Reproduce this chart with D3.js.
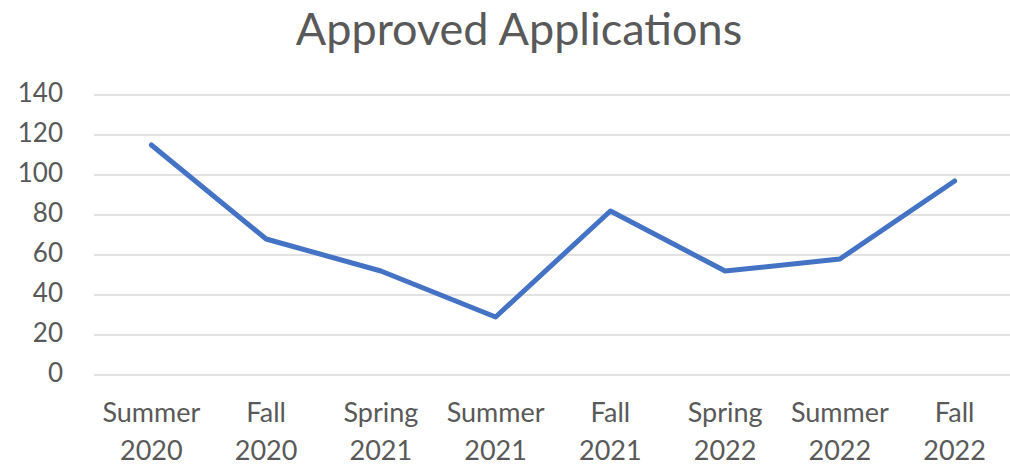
<!DOCTYPE html>
<html lang="en">
<head>
  <meta charset="UTF-8">
  <title>Approved Applications</title>
  <script src="https://d3js.org/d3.v7.min.js"></script>
  <style>
    body { margin: 0; background: #fff; }
    text { font-family: Lato, "Open Sans", sans-serif; fill: #595959; }
  </style>
</head>
<body>
<div class="main"></div>
<script>
  // chart data
  var seasons = ["Summer", "Fall", "Spring", "Summer", "Fall", "Spring", "Summer", "Fall"];
  var years = ["2020", "2020", "2021", "2021", "2021", "2022", "2022", "2022"];
  var approved = [115, 68, 52, 29, 82, 52, 58, 97];
  var yTicks = [0, 20, 40, 60, 80, 100, 120, 140];

  let width = 1010;
  let height = 467;
  let plotLeft = 94, plotRight = 1012, plotTop = 95, plotBottom = 375;

  let svg = d3.select(".main").append("svg").attr("width", width).attr("height", height).style("display", "block");

  let x = d3.scaleBand().domain(d3.range(approved.length)).range([plotLeft, plotRight]);
  let y = d3.scaleLinear().domain([0, 140]).range([plotBottom, plotTop]);

  // title
  svg.append("text").attr("x", 519).attr("y", 45).attr("text-anchor", "middle").style("font-size", "45px").text("Approved Applications");

  // gridlines + y labels
  svg.append("g").selectAll("line").data(yTicks).join("line")
    .attr("x1", plotLeft).attr("x2", plotRight)
    .attr("y1", d => y(d)).attr("y2", d => y(d))
    .style("stroke", "#d9d9d9").style("stroke-width", 1.5);

  svg.append("g").selectAll("text").data(yTicks).join("text")
    .attr("x", 63).attr("y", d => y(d) + 7)
    .attr("text-anchor", "end").style("font-size", "26px")
    .text(d => d);

  // x labels (two lines)
  let xl = svg.append("g").selectAll("text").data(seasons).join("text")
    .attr("text-anchor", "middle").style("font-size", "27px");
  xl.append("tspan").attr("x", (d, i) => x(i) + x.bandwidth() / 2).attr("y", 422).text(d => d);
  xl.append("tspan").attr("x", (d, i) => x(i) + x.bandwidth() / 2).attr("y", 460).text((d, i) => years[i]);

  // the line
  let line = d3.line().x((d, i) => x(i) + x.bandwidth() / 2).y(d => y(d));
  svg.append("path").datum(approved).attr("d", line)
    .style("fill", "none").style("stroke", "#4472C4").style("stroke-width", 5)
    .style("stroke-linejoin", "round").style("stroke-linecap", "round");
</script>
</body>
</html>
